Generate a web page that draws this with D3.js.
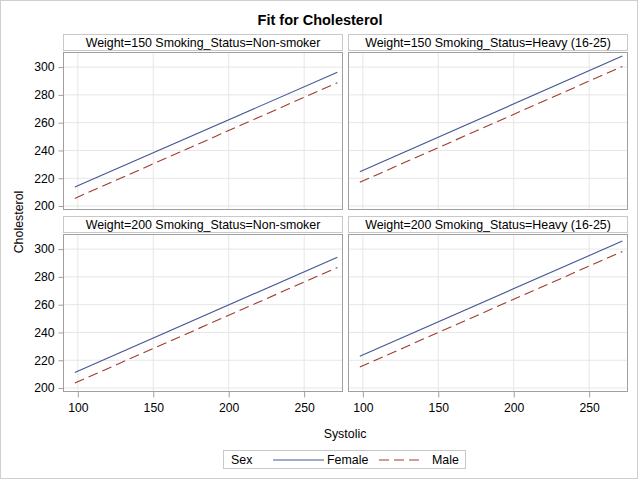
<!DOCTYPE html>
<html><head><meta charset="utf-8">
<script src="https://cdn.jsdelivr.net/npm/d3@7"></script>
<style>body{margin:0;background:#fff}svg{display:block}text{font-family:Arial,"Liberation Sans",sans-serif}</style>
</head><body><svg id="c" width="640" height="480"></svg>
<script>
const title = "Fit for Cholesterol";
const panelLabels = ["Weight=150 Smoking_Status=Non-smoker","Weight=150 Smoking_Status=Heavy (16-25)","Weight=200 Smoking_Status=Non-smoker","Weight=200 Smoking_Status=Heavy (16-25)"];
const systolic = [98, 272];
const female = [[213.7, 296.2],[224.7, 307.9],[211.1, 294.2],[222.9, 305.8]];
const male = [[205.5, 288.8],[217.1, 300.5],[203.6, 286.8],[215.1, 298.3]];
const xTicks = [100,150,200,250];
const yTicks = [200,220,240,260,280,300];
const sexes = ["Female","Male"];

const svg = d3.select("#c");
const font = 'Arial,"Liberation Sans",sans-serif';
svg.append("rect").attr("x",0.5).attr("y",0.5).attr("width",637).attr("height",478).attr("fill","#fff").attr("stroke","#cfcfcf");
svg.append("text").attr("x",320).attr("y",25).attr("text-anchor","middle").attr("font-size",14.5).attr("font-weight","bold").text(title);

const colX = [63.5, 348.5], plotW = 279;
const rowHeader = [34.5, 216.5], headerH = 16;
const rowTop = [52.5, 234.5], plotH = 157;
const color = {Female:"#445694", Male:"#A23A2E"};
const dash = {Female:null, Male:"10,5"};

const x0 = d3.scaleLinear().domain([90.5,275.4]).range([0,plotW]);
const y0 = d3.scaleLinear().domain([197.5,310.5]).range([plotH,0]);

panelLabels.forEach((lab,i)=>{
  const r = Math.floor(i/2), c = i%2;
  const gx = colX[c];
  svg.append("rect").attr("x",gx).attr("y",rowHeader[r]).attr("width",plotW).attr("height",headerH).attr("fill","#fff").attr("stroke","#c8c8c8");
  svg.append("text").attr("x",gx+plotW/2).attr("y",rowHeader[r]+12.5).attr("text-anchor","middle").attr("font-size",12.4).attr("fill","#000").text(lab);
  const g = svg.append("g").attr("transform",`translate(${gx},${rowTop[r]})`);
  g.selectAll(".gx").data(xTicks).join("line").attr("x1",d=>x0(d)).attr("x2",d=>x0(d)).attr("y1",0).attr("y2",plotH).attr("stroke","#e6e6e6");
  g.selectAll(".gy").data(yTicks).join("line").attr("x1",0).attr("x2",plotW).attr("y1",d=>y0(d)).attr("y2",d=>y0(d)).attr("stroke","#e6e6e6");
  const line = d3.line().x(d=>x0(d[0])).y(d=>y0(d[1]));
  [["Female",female[i]],["Male",male[i]]].forEach(([s,v])=>{
    g.append("path").attr("d",line(systolic.map((xv,k)=>[xv,v[k]]))).attr("fill","none").attr("stroke",color[s]).attr("stroke-width",1.1).attr("stroke-dasharray",dash[s]);
  });
  if(c===0){
    const ay = g.append("g").call(d3.axisLeft(y0).tickValues(yTicks).tickSize(5).tickPadding(4));
    ay.select(".domain").remove();
    ay.selectAll("line").attr("stroke","#a0a0a0");
    ay.selectAll("text").attr("font-size",12.2).attr("font-family",font).attr("fill","#000");
  }
  if(r===1){
    const ax = g.append("g").attr("transform",`translate(0,${plotH})`).call(d3.axisBottom(x0).tickValues(xTicks).tickSize(6).tickPadding(6));
    ax.select(".domain").remove();
    ax.selectAll("line").attr("stroke","#a0a0a0");
    ax.selectAll("text").attr("font-size",12.2).attr("font-family",font).attr("fill","#000");
  }
  g.append("rect").attr("x",0).attr("y",0).attr("width",plotW).attr("height",plotH).attr("fill","none").attr("stroke","#a0a0a0");
});

svg.append("text").attr("x",345).attr("y",438).attr("text-anchor","middle").attr("font-size",12.4).text("Systolic");
svg.append("text").attr("transform","translate(23,222) rotate(-90)").attr("text-anchor","middle").attr("font-size",12.4).text("Cholesterol");

const lg = svg.append("g");
lg.append("rect").attr("x",223.5).attr("y",450.5).attr("width",242).attr("height",18).attr("fill","#fff").attr("stroke","#c8c8c8");
lg.append("text").attr("x",231).attr("y",464).attr("font-size",12.4).text("Sex");
const legX = [[273,324,327],[379,423,432]];
sexes.forEach((s,k)=>{
  lg.append("line").attr("x1",legX[k][0]).attr("x2",legX[k][1]).attr("y1",460).attr("y2",460).attr("stroke",color[s]).attr("stroke-width",1.1).attr("stroke-dasharray",dash[s]);
  lg.append("text").attr("x",legX[k][2]).attr("y",464).attr("font-size",12.4).text(s);
});
</script></body></html>
